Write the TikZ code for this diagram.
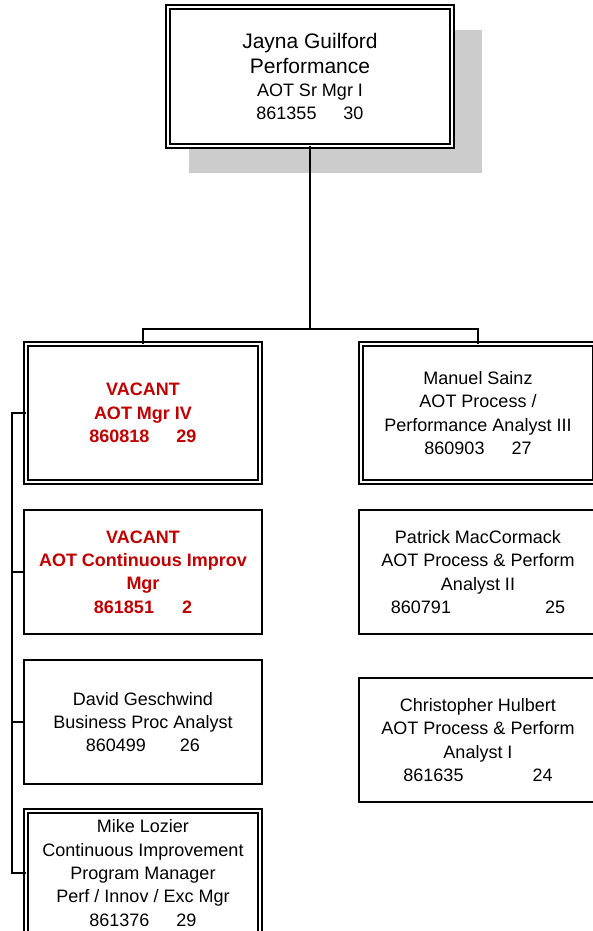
\documentclass[tikz,border=0pt]{standalone}
\usepackage{fontspec}
\setmainfont{Liberation Sans}
\usepackage{tikz}
\usetikzlibrary{shadows}
\definecolor{vacantred}{RGB}{192,0,0}
\definecolor{shadowgray}{RGB}{204,204,204}
\tikzstyle{box}=[rectangle,draw=black,fill=white,line width=2pt,inner sep=0pt,outer sep=0pt,align=center,minimum width=238pt,minimum height=124pt,font=\fontsize{18}{23.3}\selectfont]
\tikzstyle{dblbox}=[box,line width=1.7pt,double=white,double distance=2pt,minimum width=234pt,minimum height=138pt]
\tikzstyle{vacant}=[text=vacantred,font=\fontsize{18}{23.3}\selectfont\bfseries]
\tikzstyle{link}=[draw=black,line width=2pt]
\newcommand*{\bigline}[1]{{\fontsize{21}{26}\selectfont #1}}

\begin{document}
\begin{tikzpicture}[x=1pt,y=-1pt]
    \useasboundingbox (0,0) rectangle (592,931);
    \coordinate (bus) at (0,329);
    \coordinate (spine) at (12,0);

    \node [dblbox,minimum width=284pt,minimum height=139pt,
      drop shadow={shadow xshift=25pt,shadow yshift=-24.5pt,shadow scale=1.03,fill=shadowgray,opacity=1}]
      (head) at (310,76.5) {\bigline{Jayna Guilford}\\[2pt]\bigline{Performance}\\AOT Sr Mgr I\\861355\hspace{27pt}30};

    \node [dblbox,vacant] (mgr) at (143,413) {VACANT\\AOT Mgr IV\\860818\hspace{27pt}29};
    \node [box,vacant] (improv) at (143,572) {VACANT\\AOT Continuous Improv\\Mgr\\861851\hspace{28pt}2};
    \node [box] (geschwind) at (143,722) {David Geschwind\\Business Proc Analyst\\860499\hspace{34pt}26};
    \node [dblbox,minimum height=124pt] (lozier) at (143,873) {Mike Lozier\\Continuous Improvement\\Program Manager\\Perf / Innov / Exc Mgr\\861376\hspace{27pt}29};

    \node [dblbox] (sainz) at (478,413) {Manuel Sainz\\AOT Process /\\Performance Analyst III\\860903\hspace{27pt}27};
    \node [box] (maccormack) at (478,572) {Patrick MacCormack\\AOT Process \& Perform\\Analyst II\\860791\hspace{94pt}25};
    \node [box] (hulbert) at (478,740) {Christopher Hulbert\\AOT Process \& Perform\\Analyst I\\861635\hspace{69pt}24};

    \draw [link] (head.south) -- (head.south |- bus);
    \draw [link] (mgr.north) -- (mgr.north |- bus) -| (sainz.north);
    \draw [link] (mgr.west) -- (mgr.west -| spine) -- (lozier.west -| spine) -- (lozier.west);
    \foreach \n in {improv,geschwind}
      \draw [link] (\n.west -| spine) -- (\n.west);
\end{tikzpicture}
\end{document}
